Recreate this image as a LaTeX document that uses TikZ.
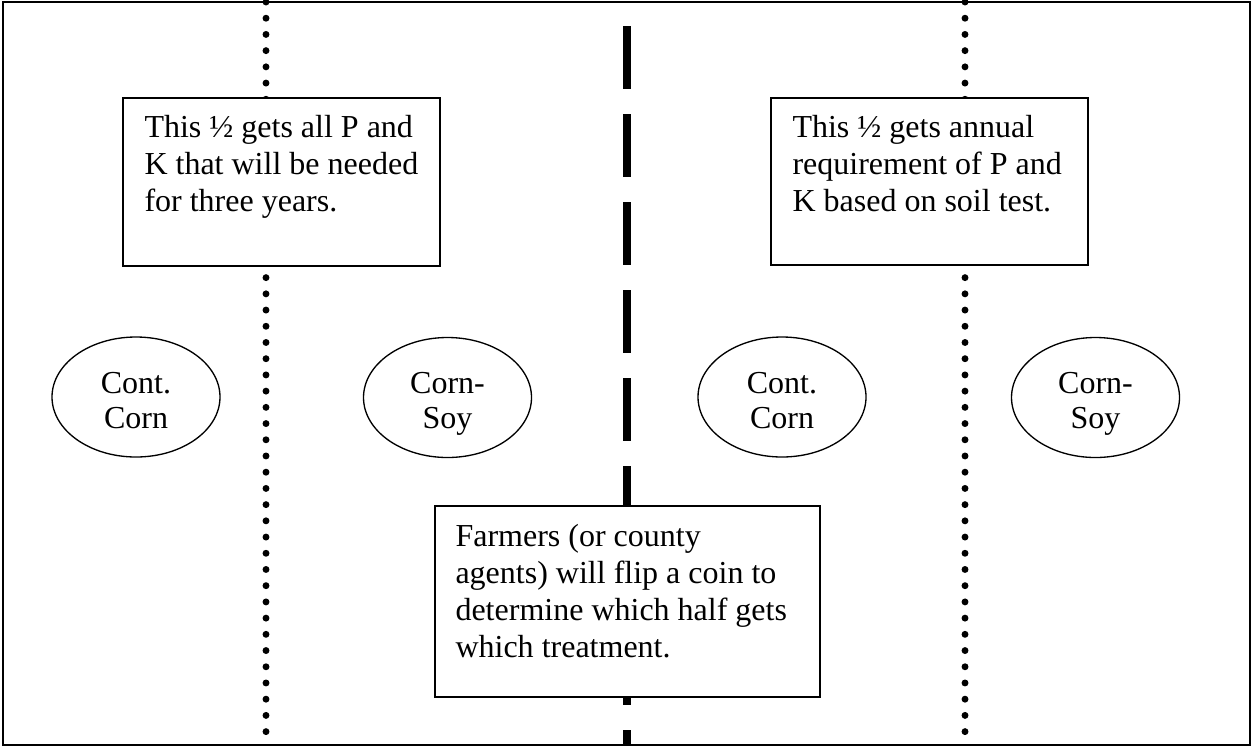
\documentclass[tikz,border=0pt]{standalone}
\usepackage{fontspec}
\setmainfont{Liberation Serif}
\usetikzlibrary{shapes.geometric}
\begin{document}
\begin{tikzpicture}[x=0.375pt,y=-0.375pt,
  frame/.style={line width=0.75pt},
  dotline/.style={line width=2.6pt, line cap=round, dash pattern=on 0pt off 6.08pt},
  dashline/.style={line width=3pt, dash pattern=on 23.6pt off 9.4pt},
  notebox/.style={draw, fill=white, line width=0.7pt},
  notetext/.style={anchor=north west, inner sep=0pt, align=left, font=\fontsize{12}{13.8}\selectfont},
  plot/.style={ellipse, draw, line width=0.5pt, inner sep=0pt, minimum width=63pt, minimum height=45pt},
  plottext/.style={inner sep=0pt, align=center, yshift=-2.5pt, font=\fontsize{12}{13.2}\selectfont}
]
\useasboundingbox (0,0) rectangle (1251,747);
% outer frame
\draw[frame] (3,2) rectangle (1250,745);
% divider lines
\draw[dotline] (266,2) -- (266,745);
\draw[dotline] (965,2) -- (965,745);
\draw[dashline] (627,26) -- (627,745);
% plots
\node[plot] (p1) at (136,397) {};
\node[plot] (p2) at (447.5,397.5) {};
\node[plot] (p3) at (782,397) {};
\node[plot] (p4) at (1095.5,397.5) {};
\node[plottext] (l1) at (p1.center) {Cont.\\Corn\vphantom{y}};
\node[plottext] (l2) at (p2.center) {Corn-\\Soy};
\node[plottext] (l3) at (p3.center) {Cont.\\Corn\vphantom{y}};
\node[plottext] (l4) at (p4.center) {Corn-\\Soy};
% notes
\draw[notebox] (123,98) rectangle (440,266);
\node[notetext] (n1) at (144,115) {This ½ gets all P and\\K that will be needed\\for three years.};
\draw[notebox] (771,98) rectangle (1088,265);
\node[notetext] (n2) at (792,115) {This ½ gets annual\\requirement of P and\\K based on soil test.};
\draw[notebox] (435,506) rectangle (820,697);
\node[notetext] (n3) at (455,524) {Farmers (or county\\agents) will flip a coin to\\determine which half gets\\which treatment.};
\end{tikzpicture}
\end{document}
